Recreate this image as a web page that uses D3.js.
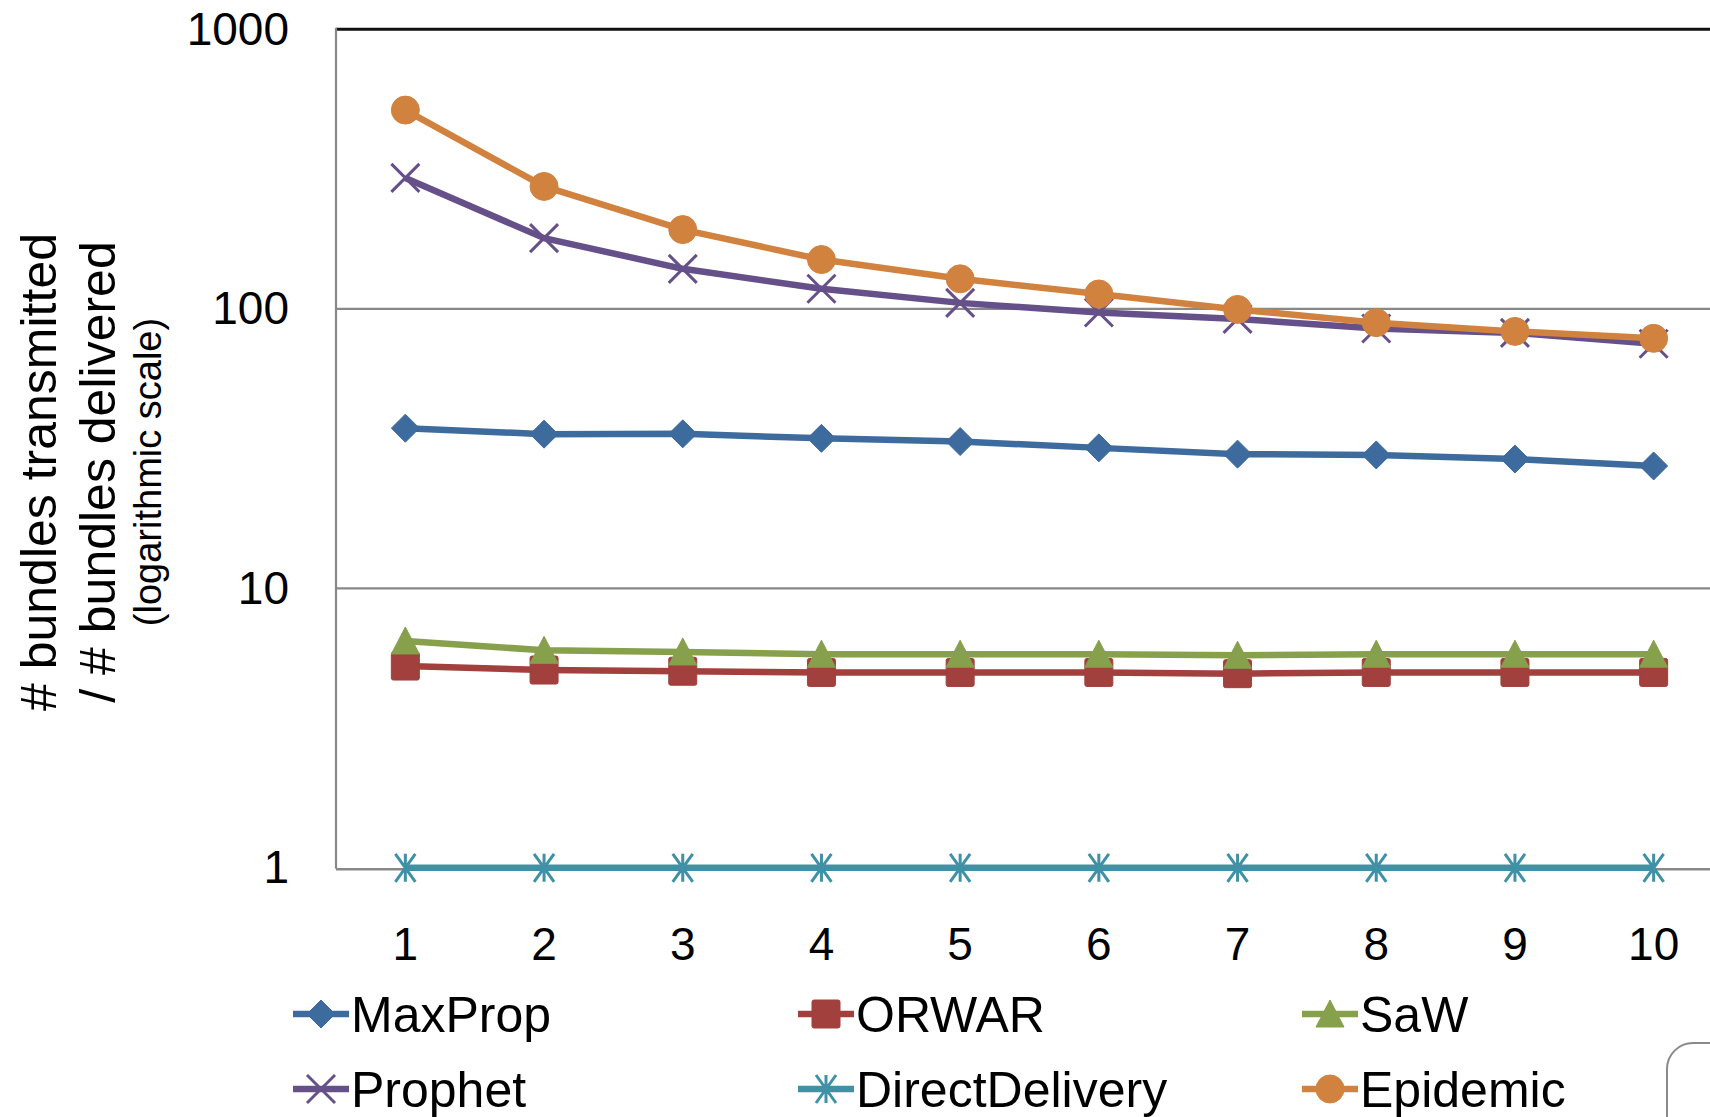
<!DOCTYPE html>
<html>
<head>
<meta charset="utf-8">
<script src="https://cdn.jsdelivr.net/npm/d3@7"></script>
<style>
  html, body { margin: 0; padding: 0; background: #ffffff; overflow: hidden; }
  svg { display: block; font-family: "Liberation Sans", Arial, sans-serif; }
</style>
</head>
<body>
<svg id="chart" width="1710" height="1117"></svg>
<script>
// ---- data ----
const categories = ["1", "2", "3", "4", "5", "6", "7", "8", "9", "10"];
const yTicks = [1, 10, 100, 1000];
const seriesNames = ["MaxProp", "ORWAR", "SaW", "Prophet", "DirectDelivery", "Epidemic"];
const maxProp = [37.4, 35.6, 35.7, 34.4, 33.5, 31.8, 30.2, 30.0, 29.0, 27.4];
const orwar = [5.27, 5.1, 5.05, 5.0, 5.0, 5.0, 4.95, 5.0, 5.0, 5.0];
const saw = [6.48, 6.0, 5.92, 5.81, 5.81, 5.81, 5.76, 5.81, 5.81, 5.81];
const prophet = [294, 179, 139, 118, 105, 97, 92, 85, 82, 75];
const directDelivery = [1, 1, 1, 1, 1, 1, 1, 1, 1, 1];
const epidemic = [514, 274, 192, 150, 128, 113, 99.5, 89.2, 83, 78.4];
const seriesColors = ["#3d6b9e", "#a1403c", "#86a04c", "#66508a", "#3f91a6", "#d2823f"];
const seriesMarkers = ["diamond", "square", "triangle", "x", "star", "circle"];
const yLabelLines = ["# bundles transmitted", "/ # bundles delivered", "(logarithmic scale)"];

const seriesValues = [maxProp, orwar, saw, prophet, directDelivery, epidemic];

// ---- layout ----
const svg = d3.select("#chart");
const plot = { left: 336, top: 29.3, width: 1387, bottom: 867.8 };

const x = d3.scaleBand().domain(categories).range([plot.left, plot.left + plot.width]).padding(0);
const y = d3.scaleLog().domain([1, 1000]).range([plot.bottom, plot.top]);
const cx = c => x(c) + x.bandwidth() / 2;

// gridlines (10, 100)
svg.append("g").selectAll("line")
  .data([10, 100]).join("line")
  .attr("x1", plot.left).attr("x2", plot.left + plot.width)
  .attr("y1", d => y(d)).attr("y2", d => y(d))
  .attr("stroke", "#888888").attr("stroke-width", 2.2);

// top border (black)
svg.append("line")
  .attr("x1", plot.left).attr("x2", plot.left + plot.width)
  .attr("y1", y(1000)).attr("y2", y(1000))
  .attr("stroke", "#111111").attr("stroke-width", 3);

// left axis & bottom axis
svg.append("line")
  .attr("x1", plot.left).attr("x2", plot.left)
  .attr("y1", y(1000) - 1.5).attr("y2", y(1) + 1)
  .attr("stroke", "#888888").attr("stroke-width", 2.2);
svg.append("line")
  .attr("x1", plot.left).attr("x2", plot.left + plot.width)
  .attr("y1", y(1) + 1.5).attr("y2", y(1) + 1.5)
  .attr("stroke", "#888888").attr("stroke-width", 2.5);

// y tick labels (using axis generator for positions)
const yAxis = d3.axisLeft(y).tickValues(yTicks).tickFormat(d3.format("d")).tickSize(0).tickPadding(0);
const yAxisG = svg.append("g").attr("transform", `translate(${289},0)`).call(yAxis);
yAxisG.select(".domain").remove();
yAxisG.selectAll("text")
  .attr("font-size", 46).attr("fill", "#000").attr("dy", 15).attr("x", 0)
  .style("font-family", '"Liberation Sans", Arial, sans-serif');

// x tick labels
const xAxis = d3.axisBottom(x).tickSize(0).tickPadding(0);
const xAxisG = svg.append("g").attr("transform", `translate(0,${960})`).call(xAxis);
xAxisG.select(".domain").remove();
xAxisG.selectAll("text")
  .attr("font-size", 46).attr("fill", "#000").attr("dy", 0).attr("y", 0)
  .style("font-family", '"Liberation Sans", Arial, sans-serif');

// y label
const yLabelPos = [[56, 50], [115, 50], [161, 38]];
yLabelLines.forEach((t, i) => {
  svg.append("text")
    .attr("transform", `translate(${yLabelPos[i][0]},472) rotate(-90)`)
    .attr("text-anchor", "middle")
    .attr("font-size", yLabelPos[i][1])
    .attr("fill", "#000")
    .text(t);
});

// marker drawing
const M = 14; // half size
function drawMarker(g, type, px, py, color) {
  if (type === "diamond") {
    g.append("path").attr("d", `M${px},${py - M}L${px + M},${py}L${px},${py + M}L${px - M},${py}Z`)
      .attr("fill", color).attr("stroke", color).attr("stroke-width", 1);
  } else if (type === "square") {
    g.append("rect").attr("x", px - M).attr("y", py - M).attr("width", 2 * M).attr("height", 2 * M)
      .attr("rx", 2).attr("fill", color).attr("stroke", color).attr("stroke-width", 1);
  } else if (type === "triangle") {
    g.append("path").attr("d", `M${px},${py - M}L${px + M},${py + 13}L${px - M},${py + 13}Z`)
      .attr("fill", color).attr("stroke", color).attr("stroke-width", 1);
  } else if (type === "circle") {
    g.append("circle").attr("cx", px).attr("cy", py).attr("r", M)
      .attr("fill", color).attr("stroke", color).attr("stroke-width", 1);
  } else if (type === "x") {
    g.append("path").attr("d", `M${px - M},${py - M}L${px + M},${py + M}M${px + M},${py - M}L${px - M},${py + M}`)
      .attr("stroke", color).attr("stroke-width", 3).attr("fill", "none");
  } else if (type === "star") {
    const w = 10;
    g.append("path").attr("d", `M${px - w},${py - M}L${px + w},${py + M}M${px + w},${py - M}L${px - w},${py + M}M${px},${py - M}L${px},${py + M}`)
      .attr("stroke", color).attr("stroke-width", 3).attr("fill", "none");
  }
}

// series
const line = d3.line().x((d, i) => cx(categories[i])).y(d => y(d));
seriesValues.forEach((vals, s) => {
  const g = svg.append("g");
  g.append("path").datum(vals).attr("d", line)
    .attr("fill", "none").attr("stroke", seriesColors[s]).attr("stroke-width", 6.5)
    .attr("stroke-linejoin", "round");
  vals.forEach((v, i) => drawMarker(g, seriesMarkers[s], cx(categories[i]), y(v), seriesColors[s]));
});

// legend
const legendCols = [351, 856, 1360];
const legendRows = [1032, 1107];
seriesNames.forEach((name, i) => {
  const tx = legendCols[i % 3];
  const by = legendRows[Math.floor(i / 3)];
  const my = by - 18;
  const g = svg.append("g");
  g.append("line").attr("x1", tx - 58).attr("x2", tx - 2).attr("y1", my).attr("y2", my)
    .attr("stroke", seriesColors[i]).attr("stroke-width", 6.5);
  drawMarker(g, seriesMarkers[i], tx - 30, my, seriesColors[i]);
  g.append("text").attr("x", tx).attr("y", by).attr("font-size", 50).attr("fill", "#000").text(name);
});

// partial rounded frame at bottom right
svg.append("rect")
  .attr("x", 1667).attr("y", 1043).attr("width", 200).attr("height", 200).attr("rx", 26)
  .attr("fill", "none").attr("stroke", "#8a8a8a").attr("stroke-width", 2);
</script>
</body>
</html>
